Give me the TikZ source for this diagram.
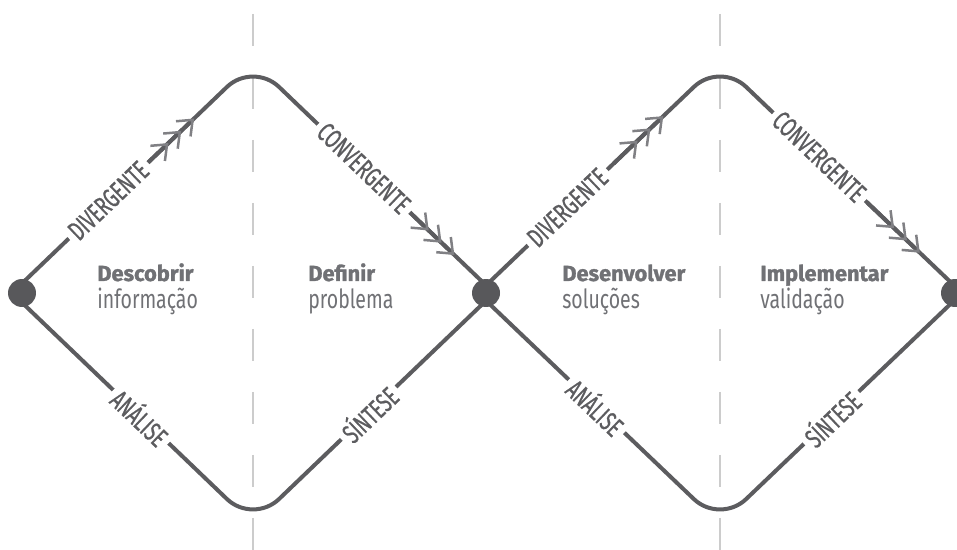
\documentclass[tikz,border=0pt]{standalone}
\usepackage{fontspec}
\setmainfont{Fira Sans}
\newfontfamily\narrowfont{Fira Sans}[FakeStretch=0.66,FakeBold=0.8]
\newfontfamily\subfont{Fira Sans}[FakeStretch=0.74]
\newfontfamily\headfont{Fira Sans}[BoldFeatures={FakeBold=1.4}]
\usetikzlibrary{arrows.meta,calc}
\definecolor{ink}{RGB}{92,92,95}
\definecolor{dotgray}{RGB}{88,88,91}
\definecolor{barb}{RGB}{128,128,132}
\definecolor{phase}{RGB}{112,113,117}
\definecolor{guide}{RGB}{204,204,204}

\tikzset{
  side/.style={draw=ink,line width=0.08cm,rounded corners=0.72cm},
  joint/.style={circle,fill=dotgray,minimum size=0.56cm,inner sep=0pt},
  tag/.style={sloped,fill=white,text=ink,inner xsep=0.1cm,inner ysep=1pt,
    font=\narrowfont\fontsize{15.5}{15.5}\selectfont},
  chevrons/.style={draw=ink,line width=0.08cm,
    -{Straight Barb[color=barb,length=0.26cm,width=0.42cm,line width=0.05cm,sep=0.03cm]
      Straight Barb[color=barb,length=0.26cm,width=0.42cm,line width=0.05cm,sep=0.03cm]
      Straight Barb[color=barb,length=0.26cm,width=0.42cm,line width=0.05cm,sep=0.03cm]}},
  guideline/.style={draw=guide,line width=0.04cm,dash pattern=on 0.64cm off 0.62cm},
  phasetitle/.style={anchor=base west,inner sep=0pt,text=phase,
    font=\headfont\bfseries\fontsize{12.4}{14}\selectfont},
  phasesub/.style={anchor=base west,inner sep=0pt,text=phase,
    font=\subfont\fontsize{15}{16}\selectfont},
}

\begin{document}
\begin{tikzpicture}[x=0.02cm,y=-0.02cm]
\clip (0,0) rectangle (957,550);
\fill[white] (0,0) rectangle (957,550);

% corners of the two diamonds
\coordinate (L1) at (12,293);
\coordinate (T1) at (253,62);
\coordinate (R1) at (494,293);
\coordinate (B1) at (253,524);
\coordinate (L2) at (478,293);
\coordinate (T2) at (720,62);
\coordinate (R2) at (962,293);
\coordinate (B2) at (720,524);

% phase dividers
\draw[guideline] (253,14) -- (253,550);
\draw[guideline] (720,14) -- (720,550);

% first diamond
\draw[side] (L1) -- (T1) -- (R1);
\draw[side] (L1) -- (B1) -- (R1);
\draw[chevrons] ($(L1)!0.55!(T1)$) -- ($(L1)!0.76!(T1)$);
\draw[chevrons] ($(T1)!0.62!(R1)$) -- ($(T1)!0.84!(R1)$);
\path (L1) -- (T1) node[tag,pos=0.40] (divA) {DIVERGENTE};
\path (T1) -- (R1) node[tag,pos=0.46] (convA) {CONVERGENTE};
\path (L1) -- (B1) node[tag,pos=0.535] (anaA) {ANÁLISE};
\path (B1) -- (R1) node[tag,pos=0.48] (synA) {SÍNTESE};

% second diamond
\draw[side] (L2) -- (T2) -- (R2);
\draw[side] (L2) -- (B2) -- (R2);
\draw[chevrons] ($(L2)!0.56!(T2)$) -- ($(L2)!0.77!(T2)$);
\draw[chevrons] ($(T2)!0.61!(R2)$) -- ($(T2)!0.83!(R2)$);
\path (L2) -- (T2) node[tag,pos=0.37] (divB) {DIVERGENTE};
\path (T2) -- (R2) node[tag,pos=0.41] (convB) {CONVERGENTE};
\path (L2) -- (B2) node[tag,pos=0.49] (anaB) {ANÁLISE};
\path (B2) -- (R2) node[tag,pos=0.46] (synB) {SÍNTESE};

% joints
\node[joint] (dotA) at (22,293) {};
\node[joint] (dotB) at (486,293) {};
\node[joint] (dotC) at (955,293) {};

% phases
\node[phasetitle] (discover) at (97,281) {Descobrir};
\node[phasesub] (discoverSub) at (97,309) {informação};
\node[phasetitle] (define) at (308,281) {Definir};
\node[phasesub] (defineSub) at (308,309) {problema};
\node[phasetitle] (develop) at (562,281) {Desenvolver};
\node[phasesub] (developSub) at (562,309) {soluções};
\node[phasetitle] (deliver) at (760,281) {Implementar};
\node[phasesub] (deliverSub) at (760,309) {validação};
\end{tikzpicture}
\end{document}
